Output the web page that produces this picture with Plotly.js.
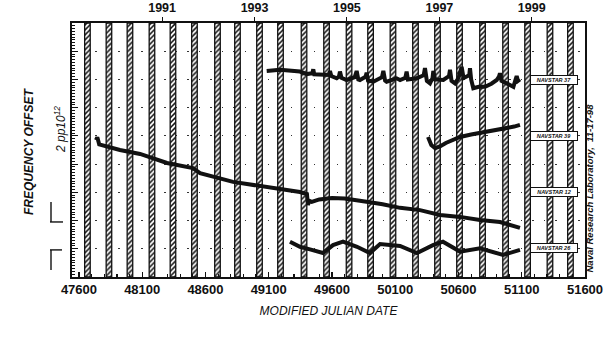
<!DOCTYPE html>
<html><head><meta charset="utf-8">
<script src="https://cdn.plot.ly/plotly-3.0.1.min.js"></script>
<style>html,body{margin:0;padding:0;background:#fff}</style>
</head><body><div id="chart" style="width:611px;height:337px"></div>
<script>
// Eclipse-season band centres (MJD)
const eclipseMJD = [47667,47837,48003,48177,48343,48513,48695,48853,49027,49193,49379,49557,49735,49905,50082,50260,50434,50608,50790,50972,51146,51323,51485];
// Top axis: years
const yearMJD = [48257,48988,49718,50449,51179];
const yearText = ['1991','1993','1995','1997','1999'];
// Bottom axis ticks
const mjdTicks = [47600,48100,48600,49100,49600,50100,50600,51100,51600];

// Series (frequency offset in grid units, 1 unit = 2 pp10^12)
const s37_mjd = [49084,49189,49347,49400,49445,49452,49460,49505,49575,49584,49595,49637,49655,49663,49675,49716,49780,49795,49808,49821,49866,49874,49885,49927,49995,50006,50020,50032,50072,50111,50138,50180,50190,50200,50270,50325,50335,50350,50375,50395,50401,50415,50480,50525,50533,50545,50572,50600,50625,50640,50685,50691,50700,50717,50760,50810,50860,50902,50920,50928,50940,50981,51034,51050,51060,51070,51086];
const s37_val = [7.30,7.34,7.28,7.19,7.22,7.36,7.18,7.16,7.16,7.30,7.12,7.04,7.10,7.28,7.06,6.98,7.08,7.30,7.00,6.98,7.10,7.24,6.96,6.92,7.08,7.30,6.96,6.92,6.98,7.04,6.98,7.06,7.28,7.00,7.04,7.15,7.40,6.95,6.86,7.05,7.30,7.00,6.98,7.12,7.34,6.95,6.86,7.05,7.45,7.05,7.15,7.40,7.00,6.69,6.74,6.74,6.85,6.98,7.10,7.22,6.95,6.86,6.74,6.98,7.12,6.95,7.00];
const s39_mjd = [50359,50385,50414,50450,50500,50560,50612,50700,50825,50900,50983,51040,51086];
const s39_val = [4.96,4.68,4.57,4.62,4.75,4.88,4.96,5.05,5.14,5.22,5.28,5.33,5.39];
const s12_mjd = [47735,47745,47760,47924,48083,48161,48296,48501,48557,48818,49087,49347,49402,49410,49420,49440,49500,49600,49700,49800,49900,50000,50138,50296,50454,50612,50770,50928,51086];
const s12_val = [4.85,4.95,4.70,4.50,4.36,4.25,4.04,3.86,3.68,3.37,3.19,3.01,2.94,2.55,2.70,2.66,2.75,2.80,2.78,2.73,2.65,2.58,2.45,2.37,2.20,2.13,2.02,1.95,1.74];
const s26_mjd = [49268,49347,49426,49529,49608,49687,49798,49900,49980,50138,50272,50398,50477,50612,50770,50952,51086];
const s26_val = [1.25,1.07,0.98,0.85,1.13,1.25,1.07,0.85,1.17,1.10,0.85,1.13,1.25,0.90,1.02,0.78,0.96];

const labelText = ['NAVSTAR 37','NAVSTAR 39','NAVSTAR 12','NAVSTAR 26'];
const labelVal = [6.98,4.99,3.01,1.03];

const ink = '#111';
const lineStyle = {color: ink, width: 4};
const traces = [
  {type:'bar', x: eclipseMJD, y: eclipseMJD.map(()=>9), base: 0, width: 44,
   marker:{color:'white', line:{color:ink, width:1.3},
     pattern:{shape:'/', fgcolor:ink, bgcolor:'white', size:3.5, solidity:0.45}},
   hoverinfo:'skip', showlegend:false},
  {type:'scatter', mode:'lines', x:s37_mjd, y:s37_val, line:lineStyle, showlegend:false},
  {type:'scatter', mode:'lines', x:s39_mjd, y:s39_val, line:lineStyle, showlegend:false},
  {type:'scatter', mode:'lines', x:s12_mjd, y:s12_val, line:lineStyle, showlegend:false},
  {type:'scatter', mode:'lines', x:s26_mjd, y:s26_val, line:lineStyle, showlegend:false},
  {type:'scatter', mode:'markers', x:yearMJD, y:yearMJD.map(()=>-1), xaxis:'x2', marker:{opacity:0}, showlegend:false, hoverinfo:'skip'}
];

const font = 'Liberation Sans, Arial, sans-serif';
const L = 72, R = 585, T = 23, B = 277;
const px2paperX = p => (p - L) / (R - L);

const annotations = labelText.map((t,i)=>({
  x: 51355, y: labelVal[i], xref:'x', yref:'y', text: '<b><i>'+t+'</i></b>', showarrow:false,
  font:{family:font, size:5.5, color:ink}, bgcolor:'white', bordercolor:ink, borderwidth:1,
  width:44, height:6, borderpad:1
}));
annotations.push(
  {xref:'paper', yref:'paper', x:px2paperX(20), y:(B-152)/(B-T), text:'<b><i>FREQUENCY OFFSET</i></b>',
   textangle:-90, showarrow:false, font:{family:font, size:12, color:ink}},
  {xref:'paper', yref:'paper', x:px2paperX(50), y:(B-130)/(B-T), text:'<i>2 pp10<sup>12</sup></i>',
   textangle:-90, showarrow:false, font:{family:font, size:12, color:ink}},
  {xref:'paper', yref:'paper', x:px2paperX(596), y:(B-188)/(B-T), text:'<b><i>Naval Research Laboratory,  11-17-98</i></b>',
   textangle:-90, showarrow:false, font:{family:font, size:9.5, color:ink}}
);

const shapes = [
  {type:'line', xref:'paper', yref:'y', x0:px2paperX(51), x1:px2paperX(51), y0:2.66, y1:1.95, line:{color:ink,width:1.4}},
  {type:'line', xref:'paper', yref:'y', x0:px2paperX(50), x1:px2paperX(63), y0:1.95, y1:1.95, line:{color:ink,width:1.4}},
  {type:'line', xref:'paper', yref:'y', x0:px2paperX(50), x1:px2paperX(62), y0:0.96, y1:0.96, line:{color:ink,width:1.4}},
  {type:'line', xref:'paper', yref:'y', x0:px2paperX(51), x1:px2paperX(51), y0:0.96, y1:0.25, line:{color:ink,width:1.4}}
];

const layout = {
  width:611, height:337,
  margin:{l:L, r:611-R, t:T, b:337-B},
  paper_bgcolor:'white', plot_bgcolor:'white',
  showlegend:false, bargap:0,
  font:{family:font, color:ink},
  xaxis:{range:[47545,51600], tickvals:mjdTicks, ticktext:mjdTicks.map(String),
    ticks:'inside', ticklen:5, tickwidth:1.2, tickcolor:ink,
    minor:{dtick:100, tick0:47600, ticks:'inside', ticklen:3, tickcolor:ink},
    showline:true, linewidth:1.6, linecolor:ink, showgrid:false, zeroline:false,
    tickfont:{family:font, size:13, color:ink, weight:'bold'},
    title:{text:'<i>MODIFIED JULIAN DATE</i>', font:{family:font, size:12, color:ink}, standoff:10}},
  xaxis2:{overlaying:'x', side:'top', anchor:'y', range:[47545,51600], tickvals:yearMJD, ticktext:yearText,
    ticks:'outside', ticklen:4, tickcolor:ink, showline:true, linewidth:1.6, linecolor:ink,
    showgrid:false, zeroline:false, tickfont:{family:font, size:12.5, color:ink, weight:'bold'}},
  yaxis:{range:[0,9], dtick:1, tick0:0, showticklabels:false, ticks:'inside', ticklen:6, tickcolor:ink,
    minor:{dtick:0.1, ticks:'inside', ticklen:3, tickcolor:ink, showgrid:false},
    showgrid:true, gridcolor:'#333', gridwidth:1, griddash:'1.5px,10px',
    showline:true, linewidth:1.6, linecolor:ink, mirror:true, zeroline:false},
  annotations, shapes
};
Plotly.newPlot('chart', traces, layout, {staticPlot:true, displayModeBar:false});
</script></body></html>
